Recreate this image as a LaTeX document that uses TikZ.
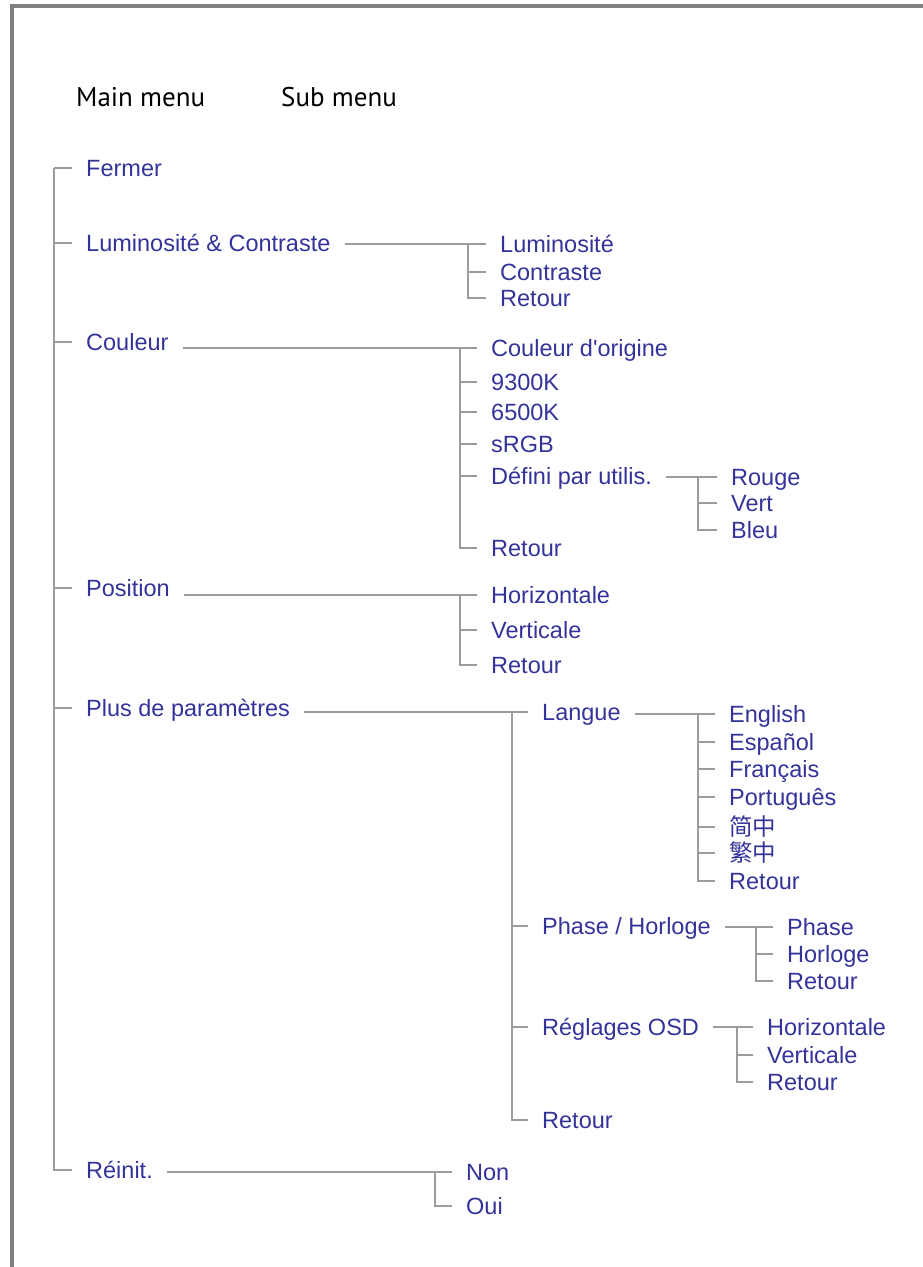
\documentclass[tikz,border=0pt]{standalone}
\usepackage{fontspec}
\setmainfont{Liberation Sans}[Ligatures=TeXOff]
\newfontfamily\hdfont{PT Sans}
\newfontfamily\cjkfont{Noto Sans CJK SC}

\definecolor{menublue}{HTML}{33339A}
\definecolor{linegray}{HTML}{9C9C9C}
\definecolor{framegray}{HTML}{808080}

\tikzset{
    item/.style={anchor=west, inner xsep=14pt, inner ysep=0pt, text=menublue,
        font=\fontsize{23.5}{26}\selectfont, text height=16.5pt, text depth=0pt},
    hdr/.style={anchor=west, inner sep=0pt, text=black,
        font=\hdfont\fontsize{27}{30}\selectfont, text height=19pt, text depth=0pt},
    conn/.style={draw=linegray, line width=2.2pt}
}

\begin{document}
\begin{tikzpicture}[x=1pt, y=-1pt]
        \useasboundingbox (0,0) rectangle (923,1267);

        % Frame
        \draw[framegray, line width=4pt] (12,1267) -- (12,5.5) -- (923,5.5);

        % Headers
        \node[hdr] (hmain) at (76,97) {Main menu};
        \node[hdr] (hsub) at (281,97) {Sub menu};

        % Main menu
        \node[item] (fermer) at (72,168) {Fermer};
        \node[item] (lum) at (72,243) {Luminosité \& Contraste};
        \node[item] (coul) at (72,342) {Couleur};
        \node[item] (pos) at (72,588) {Position};
        \node[item] (plus) at (72,708) {Plus de paramètres};
        \node[item] (reinit) at (72,1170) {Réinit.};

        \coordinate (trunk) at (54,168);
        \draw[conn] (trunk) |- (reinit.west);
        \foreach \n in {fermer,lum,coul,pos,plus}
            \draw[conn] (trunk) |- (\n.west);

        % Luminosite & Contraste
        \coordinate (bLum) at (468,244);
        \node[item] (lum1) at (486,244) {Luminosité};
        \node[item] (lum2) at (486,272) {Contraste};
        \node[item] (lum3) at (486,298) {Retour};
        \draw[conn] (lum.east |- bLum) -- (bLum);
        \foreach \n in {lum1,lum2,lum3}
            \draw[conn] (bLum) |- (\n.west);

        % Couleur
        \coordinate (bCoul) at (460,348);
        \node[item] (col1) at (477,348) {Couleur d'origine};
        \node[item] (col2) at (477,382) {9300K};
        \node[item] (col3) at (477,412) {6500K};
        \node[item] (col4) at (477,444) {sRGB};
        \node[item] (col5) at (477,476) {Défini par utilis.};
        \node[item] (col6) at (477,548) {Retour};
        \draw[conn] (coul.east |- bCoul) -- (bCoul);
        \foreach \n in {col1,col2,col3,col4,col5,col6}
            \draw[conn] (bCoul) |- (\n.west);

        % Defini par utilis.
        \coordinate (bDef) at (698,477);
        \node[item] (def1) at (717,477) {Rouge};
        \node[item] (def2) at (717,503) {Vert};
        \node[item] (def3) at (717,530) {Bleu};
        \draw[conn] (col5.east |- bDef) -- (bDef);
        \foreach \n in {def1,def2,def3}
            \draw[conn] (bDef) |- (\n.west);

        % Position
        \coordinate (bPos) at (460,595);
        \node[item] (pos1) at (477,595) {Horizontale};
        \node[item] (pos2) at (477,630) {Verticale};
        \node[item] (pos3) at (477,665) {Retour};
        \draw[conn] (pos.east |- bPos) -- (bPos);
        \foreach \n in {pos1,pos2,pos3}
            \draw[conn] (bPos) |- (\n.west);

        % Plus de parametres
        \coordinate (bPlus) at (512,712);
        \node[item] (plus1) at (528,712) {Langue};
        \node[item] (plus2) at (528,926) {Phase / Horloge};
        \node[item] (plus3) at (528,1027) {Réglages OSD};
        \node[item] (plus4) at (528,1120) {Retour};
        \draw[conn] (plus.east |- bPlus) -- (bPlus);
        \foreach \n in {plus1,plus2,plus3,plus4}
            \draw[conn] (bPlus) |- (\n.west);

        % Langue
        \coordinate (bLang) at (698,714);
        \node[item] (lang1) at (715,714) {English};
        \node[item] (lang2) at (715,742) {Español};
        \node[item] (lang3) at (715,769) {Français};
        \node[item] (lang4) at (715,797) {Português};
        \node[item] (lang5) at (715,827) {\cjkfont 简中};
        \node[item] (lang6) at (715,853) {\cjkfont 繁中};
        \node[item] (lang7) at (715,881) {Retour};
        \draw[conn] (plus1.east |- bLang) -- (bLang);
        \foreach \n in {lang1,lang2,lang3,lang4,lang5,lang6,lang7}
            \draw[conn] (bLang) |- (\n.west);

        % Phase / Horloge
        \coordinate (bPh) at (756,927);
        \node[item] (ph1) at (773,927) {Phase};
        \node[item] (ph2) at (773,954) {Horloge};
        \node[item] (ph3) at (773,981) {Retour};
        \draw[conn] (plus2.east |- bPh) -- (bPh);
        \foreach \n in {ph1,ph2,ph3}
            \draw[conn] (bPh) |- (\n.west);

        % Reglages OSD
        \coordinate (bOsd) at (737,1027);
        \node[item] (osd1) at (753,1027) {Horizontale};
        \node[item] (osd2) at (753,1055) {Verticale};
        \node[item] (osd3) at (753,1082) {Retour};
        \draw[conn] (plus3.east |- bOsd) -- (bOsd);
        \foreach \n in {osd1,osd2,osd3}
            \draw[conn] (bOsd) |- (\n.west);

        % Reinit.
        \coordinate (bRei) at (435,1172);
        \node[item] (rei1) at (452,1172) {Non};
        \node[item] (rei2) at (452,1206) {Oui};
        \draw[conn] (reinit.east |- bRei) -- (bRei);
        \foreach \n in {rei1,rei2}
            \draw[conn] (bRei) |- (\n.west);

    \end{tikzpicture}
\end{document}
